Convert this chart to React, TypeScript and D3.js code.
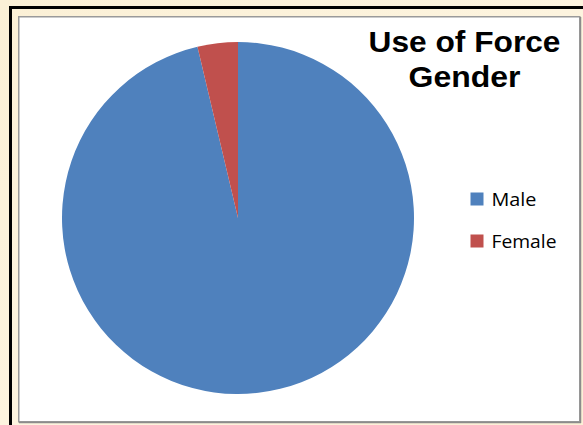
import React from "react";
import * as d3 from "d3";

const categories: string[] = ["Male", "Female"];
const values: number[] = [96.3, 3.7];
const colors: string[] = ["#4f81bd", "#c0504d"];
const titleLines: string[] = ["Use of Force", "Gender"];

export default function App() {
  const W = 583;
  const H = 425;
  const cx = 238;
  const cy = 218;
  const r = 176;

  const pie = d3
    .pie<number>()
    .sort(null)
    .value((d) => d)
    .startAngle(0)
    .endAngle(2 * Math.PI);
  const arcs = pie(values);
  const arcGen = d3.arc<d3.PieArcDatum<number>>().innerRadius(0).outerRadius(r);

  const legendY = d3.scaleBand<string>().domain(categories).range([186, 270]);
  const titleWidths = [192, 112];

  return (
    <svg
      width={W}
      height={H}
      style={{ position: "absolute", left: 0, top: 0, display: "block" }}
    >
      <defs>
        <linearGradient id="bg" x1="0" y1="0" x2="1" y2="1">
          <stop offset="0" stopColor="#fbf0d6" />
          <stop offset="0.5" stopColor="#fdf4df" />
          <stop offset="1" stopColor="#fbefd6" />
        </linearGradient>
      </defs>
      <rect x={0} y={0} width={W} height={H} fill="url(#bg)" />
      {/* outer black frame */}
      <line x1={10.5} y1={7.5} x2={W} y2={7.5} stroke="#000" strokeWidth={3} />
      <line x1={10.5} y1={6} x2={10.5} y2={H} stroke="#000" strokeWidth={3} />
      {/* chart area */}
      <rect x={18.75} y={16.75} width={561} height={405} fill="#fff" stroke="#9a9a9a" strokeWidth={1.5} />
      <line x1={580.5} y1={17} x2={580.5} y2={423} stroke="#8c8c8c" strokeWidth={1.5} />
      <line x1={19} y1={422.5} x2={581} y2={422.5} stroke="#8c8c8c" strokeWidth={1.5} />

      <g transform={`translate(${cx},${cy})`}>
        {arcs.map((a, i) => (
          <path key={categories[i]} d={arcGen(a) || ""} fill={colors[i]} />
        ))}
      </g>

      {titleLines.map((t, i) => (
        <text
          key={t}
          x={464.5}
          y={51.7 + i * 35.3}
          textAnchor="middle"
          fontFamily="'Liberation Sans', Arial, sans-serif"
          fontWeight="bold"
          fontSize={29.5}
          fill="#000"
          textLength={titleWidths[i]}
          lengthAdjust="spacingAndGlyphs"
        >
          {t}
        </text>
      ))}

      {categories.map((c, i) => {
        const y0 = (legendY(c) || 0) + 6.5;
        const labelW = [45, 65];
        return (
          <g key={c}>
            <rect x={470.5} y={y0} width={13} height={13} fill={colors[i]} />
            <text
              x={491.5}
              y={y0 + 13.8}
              fontFamily="'Open Sans', 'Liberation Sans', sans-serif"
              fontSize={17.3}
              fill="#000"
              textLength={labelW[i]}
              lengthAdjust="spacingAndGlyphs"
            >
              {c}
            </text>
          </g>
        );
      })}
    </svg>
  );
}
